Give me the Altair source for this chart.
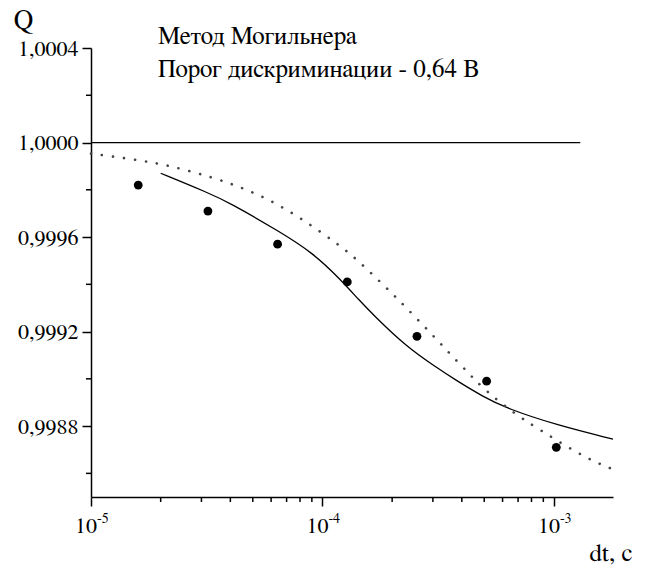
import altair as alt
import pandas as pd

# measured points
pt_dt = [1.6e-5, 3.2e-5, 6.4e-5, 1.28e-4, 2.56e-4, 5.12e-4, 1.024e-3]
pt_q = [0.99982, 0.99971, 0.99957, 0.99941, 0.99918, 0.99899, 0.99871]

# solid fitted curve
fit_dt = [2.0e-5, 3.16e-5, 3.98e-5, 6.55e-5, 9.12e-5, 1.19e-4, 1.45e-4,
          1.66e-4, 2.31e-4, 3.11e-4, 3.73e-4, 4.95e-4, 6.25e-4, 1.03e-3, 1.8e-3]
fit_q = [0.99987, 0.99979, 0.999745, 0.999622, 0.999532, 0.999423, 0.99933,
         0.99927, 0.999135, 0.999048, 0.998997, 0.998924, 0.998875, 0.998804, 0.998745]

# dotted curve
dot_dt = [1.0e-5, 1.55e-5, 2.16e-5, 3.32e-5, 4.63e-5, 6.44e-5, 8.83e-5, 1.16e-4,
          1.38e-4, 1.94e-4, 2.23e-4, 3.11e-4, 3.49e-4, 4.27e-4, 4.79e-4, 6.25e-4,
          8.71e-4, 1.38e-3, 1.8e-3]
dot_q = [0.999953, 0.999928, 0.999904, 0.999854, 0.999805, 0.999739, 0.999654, 0.999571,
         0.999514, 0.999374, 0.999315, 0.999168, 0.999114, 0.999025, 0.998973, 0.998875,
         0.998783, 0.998663, 0.998617]

# reference line Q = 1
ref_dt = [1.0e-5, 1.3e-3]
ref_q = [1.0, 1.0]

# axis ticks
x_major = [1e-5, 1e-4, 1e-3]
x_base = ["10", "10", "10"]
x_exp = ["-5", "-4", "-3"]
x_minor = [k * 10.0 ** e for e in (-5, -4) for k in range(2, 10)]
y_major = [0.9988, 0.9992, 0.9996, 1.0000, 1.0004]
y_minor = [0.9986, 0.9990, 0.9994, 0.9998, 1.0002]

title_line1 = "Метод Могильнера"
title_line2 = "Порог дискриминации - 0,64 В"

FONT = "FreeSerif"
W, H = 522, 449

xs = alt.Scale(type="log", domain=[1e-5, 1.8e-3], nice=False)
ys = alt.Scale(domain=[0.9985, 1.0004], zero=False, nice=False)

pts = pd.DataFrame({"dt": pt_dt, "q": pt_q})
fit = pd.DataFrame({"dt": fit_dt, "q": fit_q})
dot = pd.DataFrame({"dt": dot_dt, "q": dot_q})
ref = pd.DataFrame({"dt": ref_dt, "q": ref_q})
xmaj = pd.DataFrame({"dt": x_major, "base": x_base, "exp": x_exp})
xmin = pd.DataFrame({"dt": x_minor})
ymin = pd.DataFrame({"q": y_minor})

x_axis = alt.Axis(values=x_major, labels=False, tickSize=9, tickWidth=1.5, tickColor="black",
                  domainColor="black", domainWidth=1.5, grid=False,
                  title="dt, c", titleFont=FONT, titleFontSize=25, titleFontWeight="normal",
                  titleColor="black", titleAnchor="start", titleAlign="right",
                  titleBaseline="alphabetic", titleX=541, titleY=63)
y_axis = alt.Axis(values=y_major, tickSize=9, tickWidth=1.5, tickColor="black",
                  domainColor="black", domainWidth=1.5, grid=False,
                  labelFont=FONT, labelFontSize=22, labelColor="black", labelPadding=4,
                  labelExpr="replace(format(datum.value, '.4f'), '.', ',')",
                  title="Q", titleFont=FONT, titleFontSize=27, titleFontWeight="normal",
                  titleColor="black", titleAngle=0, titleAlign="center",
                  titleBaseline="alphabetic", titleX=-68, titleY=-20)

base_line = alt.Chart(ref).mark_line(color="black", strokeWidth=1.3).encode(
    x=alt.X("dt:Q", scale=xs, axis=x_axis),
    y=alt.Y("q:Q", scale=ys, axis=y_axis),
)

fit_line = alt.Chart(fit).mark_line(color="black", strokeWidth=1.3, interpolate="basis").encode(
    x=alt.X("dt:Q", scale=xs), y=alt.Y("q:Q", scale=ys))

dot_line = alt.Chart(dot).mark_line(color="#444444", strokeWidth=2.6, strokeCap="round",
                                    strokeDash=[0.1, 11], interpolate="basis").encode(
    x=alt.X("dt:Q", scale=xs), y=alt.Y("q:Q", scale=ys))

points = alt.Chart(pts).mark_point(filled=True, color="black", opacity=1, size=78, shape="circle").encode(
    x=alt.X("dt:Q", scale=xs), y=alt.Y("q:Q", scale=ys))

xminor_ticks = alt.Chart(xmin).mark_rule(color="black", strokeWidth=1.5).encode(
    x=alt.X("dt:Q", scale=xs), y=alt.value(H), y2=alt.value(H + 5))

yminor_ticks = alt.Chart(ymin).mark_rule(color="black", strokeWidth=1.5).encode(
    y=alt.Y("q:Q", scale=ys), x=alt.value(-5), x2=alt.value(0))

xlab_base = alt.Chart(xmaj).mark_text(font=FONT, fontSize=22, align="right", baseline="alphabetic",
                                      dx=6, dy=36, color="black").encode(
    x=alt.X("dt:Q", scale=xs), y=alt.value(H), text="base:N")

xlab_exp = alt.Chart(xmaj).mark_text(font=FONT, fontSize=14, align="left", baseline="alphabetic",
                                     dx=6, dy=26, color="black").encode(
    x=alt.X("dt:Q", scale=xs), y=alt.value(H), text="exp:N")

t1 = alt.Chart(pd.DataFrame({"t": [title_line1]})).mark_text(
    font=FONT, fontSize=25, align="left", baseline="alphabetic", color="black").encode(
    x=alt.value(67), y=alt.value(-4), text="t:N")
t2 = alt.Chart(pd.DataFrame({"t": [title_line2]})).mark_text(
    font=FONT, fontSize=25, align="left", baseline="alphabetic", color="black").encode(
    x=alt.value(67), y=alt.value(29), text="t:N")

chart = alt.layer(base_line, fit_line, dot_line, points, xminor_ticks, yminor_ticks,
                  xlab_base, xlab_exp, t1, t2).properties(
    width=W, height=H,
    autosize=alt.AutoSizeParams(type="none"),
    padding={"left": 91, "top": 48, "right": 35, "bottom": 74},
    background="white",
).configure_view(stroke=None)

chart.save("out.html", embed_options={"renderer": "svg", "actions": False})
